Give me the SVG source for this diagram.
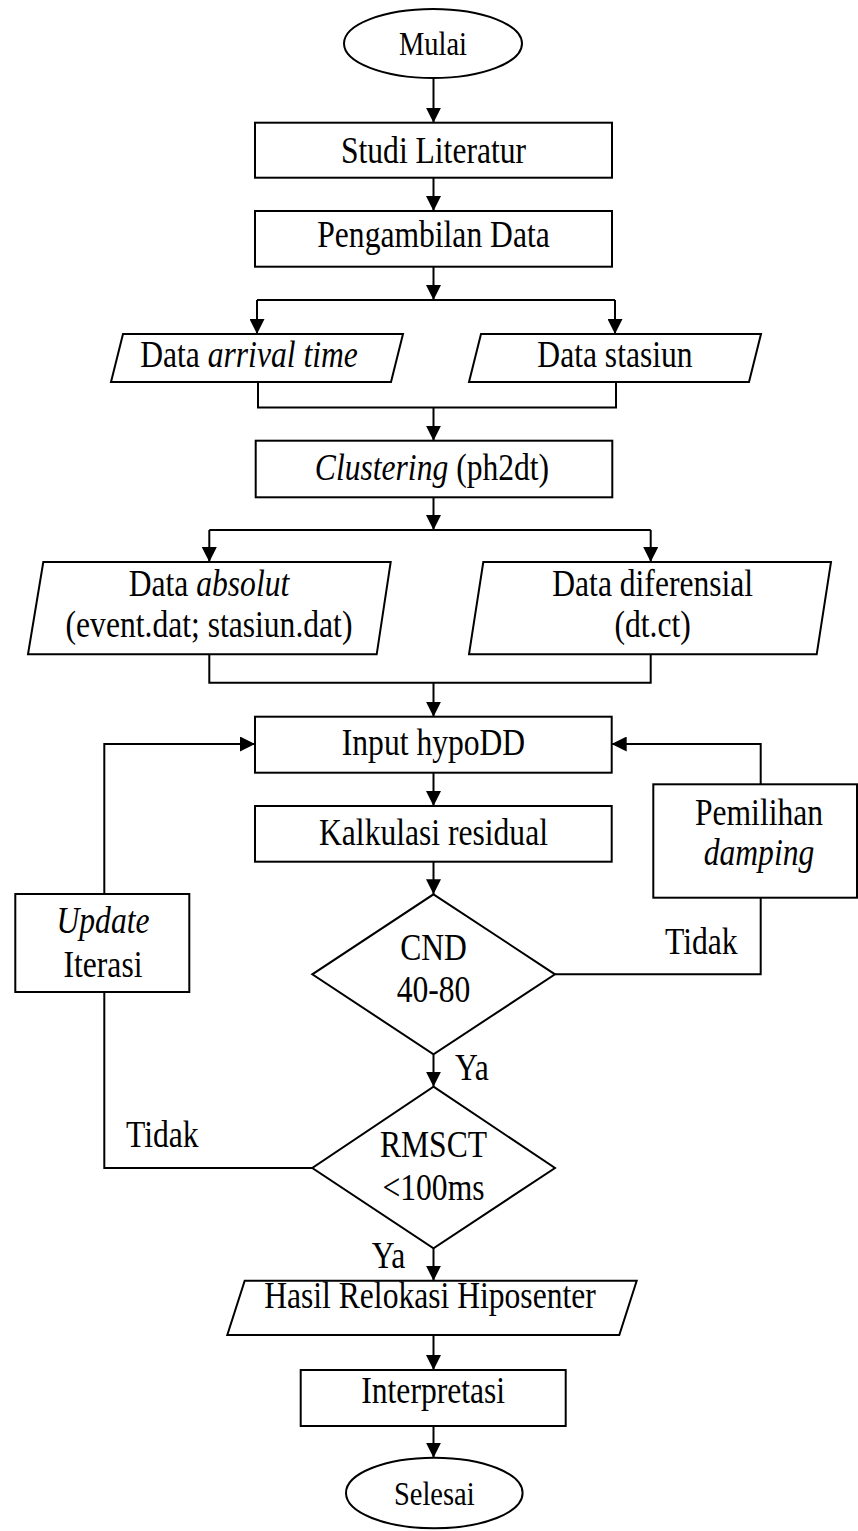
<svg xmlns="http://www.w3.org/2000/svg" width="858" height="1531" viewBox="0 0 858 1531">
<style>
.s{fill:#fff;stroke:#000;stroke-width:2}
.c{fill:none;stroke:#000;stroke-width:2}
.a{fill:none;stroke:#000;stroke-width:2;marker-end:url(#ah)}
text{font-family:"Liberation Serif","Times New Roman",serif;font-size:31.6px;fill:#000;text-anchor:middle}
.e{font-size:28.5px}
.l{text-anchor:start}
.i{font-style:italic}
</style>
<defs>
<marker id="ah" markerUnits="userSpaceOnUse" markerWidth="15" markerHeight="15" refX="15" refY="7.5" orient="auto">
<path d="M0,0 L15,7.5 L0,15 z" fill="#000"/>
</marker>
</defs>
<rect width="858" height="1531" fill="#fff"/>
<g id="connectors">
<line class="a" x1="433.5" y1="78" x2="433.5" y2="122.7"/>
<line class="a" x1="433.5" y1="177.7" x2="433.5" y2="211"/>
<line class="a" x1="433.5" y1="266.7" x2="433.5" y2="300"/>
<polyline class="c" points="257,300 615,300"/>
<line class="a" x1="257" y1="300" x2="257" y2="334"/>
<line class="a" x1="615" y1="300" x2="615" y2="334"/>
<polyline class="c" points="258,382 258,407.5 616,407.5 616,382"/>
<line class="a" x1="433.5" y1="407.5" x2="433.5" y2="440.7"/>
<line class="a" x1="433.5" y1="497.3" x2="433.5" y2="530"/>
<polyline class="c" points="209.3,530 650.7,530"/>
<line class="a" x1="209.3" y1="530" x2="209.3" y2="562"/>
<line class="a" x1="650.7" y1="530" x2="650.7" y2="562"/>
<polyline class="c" points="209.3,654.3 209.3,682.7 650.7,682.7 650.7,654.3"/>
<line class="a" x1="433.5" y1="682.7" x2="433.5" y2="716.7"/>
<line class="a" x1="433.5" y1="772.7" x2="433.5" y2="806"/>
<line class="a" x1="433.5" y1="861.7" x2="433.5" y2="894.3"/>
<line class="a" x1="433.5" y1="1054.3" x2="433.5" y2="1086.7"/>
<polyline class="c" points="555,974.3 760.7,974.3 760.7,897.7"/>
<polyline class="a" points="760.7,784.3 760.7,744 611.7,744"/>
<polyline class="c" points="312.3,1168 104.3,1168 104.3,992"/>
<polyline class="a" points="104.3,894 104.3,744 255,744"/>
<line class="a" x1="433.5" y1="1248.3" x2="433.5" y2="1280.7"/>
<line class="a" x1="433.5" y1="1335" x2="433.5" y2="1370"/>
<line class="a" x1="433.5" y1="1426" x2="433.5" y2="1457.7"/>
<text class="l" x="455" y="1080" transform="matrix(1 0 0 1.17 0 -183.6)">Ya</text>
<text class="l" x="665" y="954.3" transform="matrix(1 0 0 1.17 0 -162.23)">Tidak</text>
<text class="l" x="126" y="1146.7" transform="matrix(1 0 0 1.17 0 -194.94)">Tidak</text>
<text class="l" x="371.7" y="1268.3" transform="matrix(1 0 0 1.17 0 -215.61)">Ya</text>
</g>
<g id="mulai">
<ellipse class="s" cx="433" cy="43.5" rx="89" ry="34.5"/>
<text class="e" x="433" y="55" transform="matrix(1 0 0 1.17 0 -9.35)">Mulai</text>
</g>
<g id="studi">
<rect class="s" x="255" y="122.7" width="357" height="55"/>
<text x="433.5" y="163" transform="matrix(1 0 0 1.17 0 -27.71)">Studi Literatur</text>
</g>
<g id="pengambilan">
<rect class="s" x="255" y="211" width="357" height="55.7"/>
<text x="433.5" y="247" transform="matrix(1 0 0 1.17 0 -41.99)">Pengambilan Data</text>
</g>
<g id="arrival">
<polygon class="s" points="123,334 403,334 391,382 111,382"/>
<text x="249" y="367" transform="matrix(1 0 0 1.17 0 -62.39)">Data <tspan class="i">arrival time</tspan></text>
</g>
<g id="stasiun">
<polygon class="s" points="481,334 761,334 749,382 469,382"/>
<text x="615" y="367" transform="matrix(1 0 0 1.17 0 -62.39)">Data stasiun</text>
</g>
<g id="clustering">
<rect class="s" x="255.7" y="440.7" width="356.6" height="56.6"/>
<text x="432" y="480" transform="matrix(1 0 0 1.17 0 -81.6)"><tspan class="i">Clustering</tspan> (ph2dt)</text>
</g>
<g id="absolut">
<polygon class="s" points="43.3,562 390.7,562 376.7,654.3 28,654.3"/>
<text x="209" y="595.7" transform="matrix(1 0 0 1.17 0 -101.27)">Data <tspan class="i">absolut</tspan></text>
<text x="209" y="637.3" transform="matrix(1 0 0 1.17 0 -108.34)">(event.dat; stasiun.dat)</text>
</g>
<g id="diferensial">
<polygon class="s" points="483.3,562 831,562 816.7,654.3 469,654.3"/>
<text x="652.7" y="595.7" transform="matrix(1 0 0 1.17 0 -101.27)">Data diferensial</text>
<text x="652.7" y="637.3" transform="matrix(1 0 0 1.17 0 -108.34)">(dt.ct)</text>
</g>
<g id="input">
<rect class="s" x="255" y="716.7" width="356.7" height="56"/>
<text x="433.5" y="755" transform="matrix(1 0 0 1.17 0 -128.35)">Input hypoDD</text>
</g>
<g id="kalkulasi">
<rect class="s" x="255" y="806" width="356.7" height="55.7"/>
<text x="433.5" y="845" transform="matrix(1 0 0 1.17 0 -143.65)">Kalkulasi residual</text>
</g>
<g id="pemilihan">
<rect class="s" x="653.3" y="784.3" width="203.7" height="113.4"/>
<text x="759" y="825" transform="matrix(1 0 0 1.17 0 -140.25)">Pemilihan</text>
<text class="i" x="759" y="865" transform="matrix(1 0 0 1.17 0 -147.05)">damping</text>
</g>
<g id="update">
<rect class="s" x="15.3" y="894" width="174" height="98"/>
<text class="i" x="103" y="933.3" transform="matrix(1 0 0 1.17 0 -158.66)">Update</text>
<text x="103" y="976.7" transform="matrix(1 0 0 1.17 0 -166.04)">Iterasi</text>
</g>
<g id="cnd">
<polygon class="s" points="433.5,894.3 555,974.3 433.5,1054.3 312.3,974.3"/>
<text x="433.5" y="960" transform="matrix(1 0 0 1.17 0 -163.2)">CND</text>
<text x="433.5" y="1001.7" transform="matrix(1 0 0 1.17 0 -170.29)">40-80</text>
</g>
<g id="rmsct">
<polygon class="s" points="433.5,1086.7 555,1168 433.5,1248.3 312.3,1168"/>
<text x="433.5" y="1156.7" transform="matrix(1 0 0 1.17 0 -196.64)">RMSCT</text>
<text x="433.5" y="1200" transform="matrix(1 0 0 1.17 0 -204)">&lt;100ms</text>
</g>
<g id="hasil">
<polygon class="s" points="244.7,1280.7 636.7,1280.7 619.3,1335 227.3,1335"/>
<text x="430" y="1308.3" transform="matrix(1 0 0 1.17 0 -222.41)">Hasil Relokasi Hiposenter</text>
</g>
<g id="interpretasi">
<rect class="s" x="300.7" y="1370" width="265" height="56"/>
<text x="433.2" y="1403.3" transform="matrix(1 0 0 1.17 0 -238.56)">Interpretasi</text>
</g>
<g id="selesai">
<ellipse class="s" cx="434.3" cy="1493" rx="88.3" ry="35.3"/>
<text class="e" x="434.3" y="1505" transform="matrix(1 0 0 1.17 0 -255.85)">Selesai</text>
</g>
</svg>
